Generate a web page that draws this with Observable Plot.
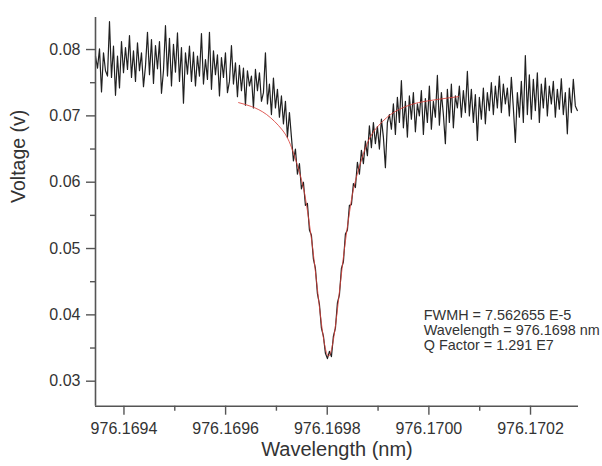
<!DOCTYPE html>
<html>
<head>
<meta charset="utf-8">
<script src="https://cdn.jsdelivr.net/npm/d3@7"></script>
<script src="https://cdn.jsdelivr.net/npm/@observablehq/plot@0.6"></script>
<style>
  html, body { margin: 0; padding: 0; background: #fff; overflow: hidden; }
</style>
</head>
<body>
<div id="chart"></div>
<script>
// ---- Data ----
// Measured trace: evenly sampled wavelength grid
const wlStart = 976.169344;   // nm, first sample
const wlStep = 0.000003934;   // nm between samples
const voltage = [
  0.0790, 0.0772, 0.0801, 0.0736, 0.0795, 0.0768, 0.0760, 0.0842, 0.0758, 0.0805,
  0.0731, 0.0790, 0.0742, 0.0812, 0.0765, 0.0803, 0.0770, 0.0821, 0.0758, 0.0798,
  0.0752, 0.0810, 0.0768, 0.0795, 0.0744, 0.0775, 0.0826, 0.0762, 0.0815, 0.0749,
  0.0806, 0.0771, 0.0812, 0.0734, 0.0768, 0.0836, 0.0760, 0.0817, 0.0745, 0.0808,
  0.0766, 0.0825, 0.0752, 0.0803, 0.0719, 0.0795, 0.0763, 0.0805,
  0.0752, 0.0796, 0.0745, 0.0790, 0.0760, 0.0824, 0.0748, 0.0785, 0.0755, 0.0826,
  0.0740, 0.0798, 0.0762, 0.0792, 0.0730, 0.0788, 0.0758, 0.0795, 0.0735, 0.0752,
  0.0806, 0.0748, 0.0780, 0.0729, 0.0776, 0.0738, 0.0772, 0.0716, 0.0768, 0.0745,
  0.0760, 0.0712, 0.0770, 0.0738, 0.0765, 0.0722, 0.0735, 0.0795, 0.0718, 0.0748,
  0.0702, 0.0757, 0.0712, 0.0740, 0.0698, 0.0730, 0.0688, 0.0722, 0.0668, 0.0705,
  0.0668, 0.0632, 0.0650, 0.0612, 0.0628, 0.0590, 0.0600, 0.0565, 0.0568, 0.0528,
  0.0520, 0.0484, 0.0470, 0.0432, 0.0416, 0.0380, 0.0368, 0.0342, 0.0334, 0.0345,
  0.0337, 0.0368, 0.0380, 0.0418, 0.0430, 0.0470, 0.0480, 0.0522, 0.0528, 0.0565,
  0.0566, 0.0598, 0.0592, 0.0630, 0.0612, 0.0648, 0.0628, 0.0662, 0.0640, 0.0685,
  0.0652,
  0.0690, 0.0658, 0.0684, 0.0650, 0.0695, 0.0668, 0.0622, 0.0690, 0.0702, 0.0680,
  0.0718, 0.0672, 0.0728, 0.0690, 0.0753, 0.0682, 0.0722, 0.0668, 0.0730, 0.0695,
  0.0735, 0.0676, 0.0718, 0.0700, 0.0738, 0.0672, 0.0726, 0.0690, 0.0745, 0.0680,
  0.0722, 0.0698, 0.0761, 0.0686, 0.0735, 0.0702, 0.0658, 0.0740, 0.0690, 0.0748,
  0.0682, 0.0730, 0.0712, 0.0745,
  0.0698, 0.0738, 0.0705, 0.0767, 0.0700, 0.0740, 0.0690, 0.0732, 0.0663, 0.0728,
  0.0695, 0.0742, 0.0688, 0.0735, 0.0708, 0.0750, 0.0702, 0.0745, 0.0712, 0.0760,
  0.0705, 0.0748, 0.0718, 0.0742, 0.0700, 0.0758, 0.0712, 0.0660, 0.0735, 0.0698,
  0.0752, 0.0690, 0.0791, 0.0702, 0.0762, 0.0695, 0.0755, 0.0708, 0.0765, 0.0690,
  0.0748, 0.0712, 0.0757, 0.0700, 0.0745, 0.0718, 0.0752, 0.0698, 0.0740, 0.0710,
  0.0756, 0.0702, 0.0735, 0.0673, 0.0742, 0.0705, 0.0755, 0.0715, 0.0708
];

// Lorentzian fit curve (red), read as points
const fitWavelength = [
  976.1696256, 976.1696512, 976.1696807, 976.1697102, 976.1697299, 976.1697495,
  976.1697594, 976.1697692, 976.1697790, 976.1697889, 976.1697967, 976.1698026,
  976.1698085, 976.1698164, 976.1698262, 976.1698361, 976.1698459, 976.1698558,
  976.1698754, 976.1698951, 976.1699246, 976.1699541, 976.1699797, 976.1700190,
  976.1700584
];
const fitVoltage = [
  0.0720, 0.0714, 0.0702, 0.0680, 0.0652, 0.0603,
  0.0565, 0.0513, 0.0450, 0.0385, 0.0348, 0.0338,
  0.0348, 0.0385, 0.0450, 0.0513, 0.0565, 0.0603,
  0.0652, 0.0680, 0.0702, 0.0714, 0.0720, 0.0725,
  0.0729
];

// Axes
const xDomain = [976.169344, 976.1702944];
const yDomain = [0.02623, 0.08483];
const xTicks = [976.1694, 976.1696, 976.1698, 976.1700, 976.1702];
const xMinorTicks = [976.1695, 976.1697, 976.1699, 976.1701];
const yTicks = [0.03, 0.04, 0.05, 0.06, 0.07, 0.08];
const yMinorTicks = [0.035, 0.045, 0.055, 0.065, 0.075];

const xTitle = "Wavelength (nm)";
const yTitle = "Voltage (v)";
const annotationLines = [
  "FWMH = 7.562655 E-5",
  "Wavelength = 976.1698 nm",
  "Q Factor = 1.291 E7"
];

// ---- Build tables ----
const trace = voltage.map((v, i) => ({wl: wlStart + i * wlStep, v}));
const fit = fitWavelength.map((wl, i) => ({wl, v: fitVoltage[i]}));

const axisColor = "#555";
const textColor = "#333";

const chart = Plot.plot({
  width: 602,
  height: 466,
  marginTop: 17,
  marginRight: 24,
  marginBottom: 60.3,
  marginLeft: 95,
  style: {
    fontFamily: "'Liberation Sans', Arial, Helvetica, sans-serif",
    color: textColor,
    background: "#fff",
    overflow: "visible"
  },
  x: {domain: xDomain},
  y: {domain: yDomain},
  marks: [
    Plot.line(trace, {x: "wl", y: "v", stroke: "#202020", strokeWidth: 1.2}),
    Plot.line(fit, {x: "wl", y: "v", stroke: "#d9403a", strokeWidth: 1, strokeOpacity: 0.85, curve: "natural"}),
    Plot.ruleX([xDomain[0]], {stroke: axisColor, strokeWidth: 1.6}),
    Plot.ruleY([yDomain[0]], {stroke: axisColor, strokeWidth: 1.6}),
    Plot.axisY(yTicks, {
      tickSize: 9, tickPadding: 6, tickFormat: d3.format(".2f"),
      fontSize: 16, label: null, stroke: axisColor, strokeWidth: 1.4, fill: textColor
    }),
    Plot.axisY(yMinorTicks, {
      tickSize: 5, tickFormat: () => "", label: null, stroke: axisColor, strokeWidth: 1.4
    }),
    Plot.axisX(xTicks, {
      tickSize: 9, tickPadding: 7, tickFormat: d3.format(".4f"),
      fontSize: 16, label: null, stroke: axisColor, strokeWidth: 1.4, fill: textColor
    }),
    Plot.axisX(xMinorTicks, {
      tickSize: 5, tickFormat: () => "", label: null, stroke: axisColor, strokeWidth: 1.4
    }),
    Plot.text([yTitle], {
      frameAnchor: "left", rotate: -90, dx: -76.5, dy: -8.9,
      fontSize: 19.5, fill: textColor
    }),
    Plot.text([xTitle], {
      frameAnchor: "bottom", dy: 50, fontSize: 20, fill: textColor
    }),
    Plot.text([annotationLines.join("\n")], {
      frameAnchor: "top-left", dx: 328.3, dy: 292.1, textAnchor: "start",
      lineAnchor: "top", lineHeight: 1.042, fontSize: 14.4, fill: textColor
    })
  ]
});

document.getElementById("chart").appendChild(chart);
</script>
</body>
</html>
